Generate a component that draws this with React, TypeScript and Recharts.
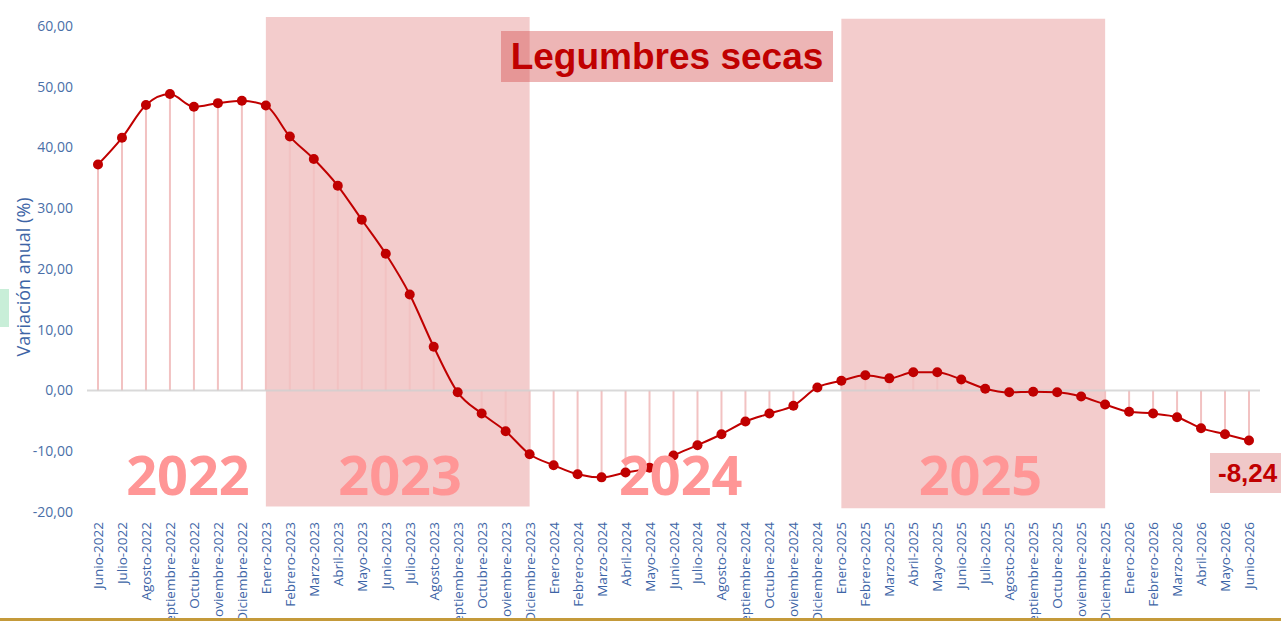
import { ComposedChart, Line, Bar, XAxis, YAxis, ReferenceArea, ReferenceLine } from "recharts";

// meses (eje X)
const months = [
  "Junio-2022", "Julio-2022", "Agosto-2022", "Septiembre-2022", "Octubre-2022", "Noviembre-2022", "Diciembre-2022",
  "Enero-2023", "Febrero-2023", "Marzo-2023", "Abril-2023", "Mayo-2023", "Junio-2023", "Julio-2023", "Agosto-2023",
  "Septiembre-2023", "Octubre-2023", "Noviembre-2023", "Diciembre-2023",
  "Enero-2024", "Febrero-2024", "Marzo-2024", "Abril-2024", "Mayo-2024", "Junio-2024", "Julio-2024", "Agosto-2024",
  "Septiembre-2024", "Octubre-2024", "Noviembre-2024", "Diciembre-2024",
  "Enero-2025", "Febrero-2025", "Marzo-2025", "Abril-2025", "Mayo-2025", "Junio-2025", "Julio-2025", "Agosto-2025",
  "Septiembre-2025", "Octubre-2025", "Noviembre-2025", "Diciembre-2025",
  "Enero-2026", "Febrero-2026", "Marzo-2026", "Abril-2026", "Mayo-2026", "Junio-2026",
];

// variación anual (%)
const variation = [
  37.2, 41.6, 47.0, 48.8, 46.7, 47.3, 47.7,
  46.9, 41.8, 38.1, 33.7, 28.1, 22.5, 15.8, 7.2, -0.3, -3.8, -6.7, -10.5,
  -12.3, -13.8, -14.3, -13.5, -12.7, -10.7, -9.0, -7.2, -5.1, -3.8, -2.5, 0.5,
  1.6, 2.5, 2.0, 3.0, 3.0, 1.8, 0.3, -0.3, -0.2, -0.3, -1.0, -2.3,
  -3.5, -3.8, -4.4, -6.2, -7.2, -8.24,
];

const yTicks = [-20, -10, 0, 10, 20, 30, 40, 50, 60];

// años sombreados: [inicio, fin] como índice de mes
const shadedYears = [
  { from: 7, to: 18, top: 61.5, bottom: -19.1 },
  { from: 31, to: 42, top: 61.2, bottom: -19.4 },
];

// etiquetas de año: [texto, posición en índice de mes]
const yearLabels = [
  { text: "2022", at: 3.75 },
  { text: "2023", at: 12.6 },
  { text: "2024", at: 24.3 },
  { text: "2025", at: 36.8 },
];

const data = months.map((m, i) => ({ idx: i, month: m, value: variation[i] }));

const BLUE = "#3d64a6";
const RED = "#c00000";

const fmt = (v: number) => v.toFixed(2).replace(".", ",");

const MonthTick = (props: any) => {
  const { x, y, payload } = props;
  return (
    <text
      x={x}
      y={y}
      transform={`rotate(-90, ${x}, ${y})`}
      textAnchor="end"
      dominantBaseline="central"
      fill={BLUE}
      fontSize={13.5}
      fontFamily="Open Sans, sans-serif"
    >
      {months[payload.value]}
    </text>
  );
};

const Stem = (props: any) => {
  const { x, y, width, height } = props;
  if (height == null) return null;
  const cx = x + width / 2;
  return <line x1={cx} x2={cx} y1={y} y2={y + height} stroke="#f2c2c2" strokeWidth={2} />;
};

const App = () => {
  const plotLeft = 98;
  const step = 1151 / 48;
  return (
    <div style={{ position: "fixed", left: 0, top: 0, width: 1281, height: 621, overflow: "hidden", background: "#fff" }}>
      <ComposedChart width={1281} height={621} data={data} margin={{ top: 26, right: 21, bottom: 0, left: 0 }}>
        <XAxis
          dataKey="idx"
          type="number"
          domain={[0, 48]}
          ticks={data.map((d) => d.idx)}
          interval={0}
          padding={{ left: 11, right: 11 }}
          height={109}
          tick={<MonthTick />}
          tickLine={false}
          axisLine={false}
          tickMargin={4}
        />
        <YAxis
          domain={[-20, 60]}
          ticks={yTicks}
          width={87}
          tickFormatter={fmt}
          tick={{ fill: "#4a6fa8", fontSize: 14, fontFamily: "Open Sans, sans-serif" }}
          tickLine={false}
          axisLine={false}
          tickMargin={8}
          label={{
            content: () => (
              <text
                x={30}
                y={277}
                transform="rotate(-90, 30, 277)"
                textAnchor="middle"
                fill={BLUE}
                fontSize={18}
                fontFamily="Open Sans, sans-serif"
              >
                Variación anual (%)
              </text>
            ),
          }}
        />
        <Bar dataKey="value" barSize={2} shape={<Stem />} isAnimationActive={false} />
        {shadedYears.map((s) => (
          <ReferenceArea
            key={s.from}
            x1={s.from}
            x2={s.to}
            y1={s.bottom}
            y2={s.top}
            ifOverflow="visible"
            fill="#e07a7a"
            fillOpacity={0.38}
            stroke="none"
          />
        ))}
        <ReferenceLine y={0} stroke="#cfcfcf" strokeOpacity={0.8} strokeWidth={2} />
        <Line
          type="monotone"
          dataKey="value"
          stroke={RED}
          strokeWidth={2}
          dot={{ r: 5, fill: RED, stroke: "none" }}
          activeDot={false}
          isAnimationActive={false}
        />
      </ComposedChart>

      {yearLabels.map((l) => (
        <div
          key={l.text}
          style={{
            position: "absolute",
            left: plotLeft + l.at * step - 100,
            top: 438,
            width: 200,
            textAlign: "center",
            color: "#ff9696",
            fontFamily: "Open Sans, sans-serif",
            fontWeight: 700,
            fontSize: 54,
            lineHeight: "72px",
          }}
        >
          {l.text}
        </div>
      ))}

      <div
        style={{
          position: "absolute",
          left: 501,
          top: 31,
          width: 332,
          height: 51,
          background: "rgba(210,70,70,0.4)",
          color: RED,
          fontFamily: "Liberation Sans, Arial, sans-serif",
          fontWeight: 700,
          fontSize: 37,
          lineHeight: "51px",
          textAlign: "center",
        }}
      >
        Legumbres secas
      </div>

      <div
        style={{
          position: "absolute",
          left: 1210,
          top: 453,
          width: 80,
          height: 40,
          background: "#f0c8c8",
          color: RED,
          fontFamily: "Liberation Sans, Arial, sans-serif",
          fontWeight: 700,
          fontSize: 26,
          lineHeight: "40px",
          paddingLeft: 8,
          boxSizing: "border-box",
        }}
      >
        {fmt(variation[variation.length - 1])}
      </div>

      <div style={{ position: "absolute", left: 0, top: 289, width: 9, height: 38, background: "#c8eed8" }} />
      <div style={{ position: "absolute", left: 0, top: 618, width: 1281, height: 3, background: "#c49a3a" }} />
    </div>
  );
};

export default App;
